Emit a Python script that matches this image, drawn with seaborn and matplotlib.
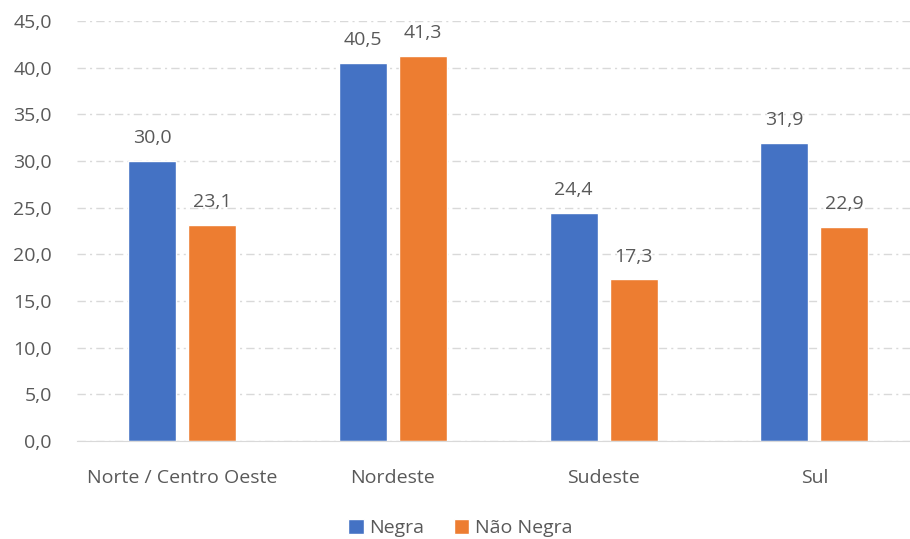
import pandas as pd
import matplotlib.pyplot as plt
import seaborn as sns

# ---------- data ----------
regioes = ["Norte / Centro Oeste", "Nordeste", "Sudeste", "Sul"]
negra = [30.0, 40.5, 24.4, 31.9]
nao_negra = [23.1, 41.3, 17.3, 22.9]
series = ["Negra", "Não Negra"]

df = pd.DataFrame({
    "Região": regioes * 2,
    "Valor": negra + nao_negra,
    "Grupo": [series[0]] * 4 + [series[1]] * 4,
})

sns.set_style("white")
plt.rcParams["font.family"] = ["Open Sans", "DejaVu Sans"]
TXT = "#595959"

fig = plt.figure(figsize=(9.1, 5.39), dpi=100)
# axes runs a bit past the right edge, like the cropped original
ax = fig.add_axes([0.0846, 0.182, 0.926, 0.779])

sns.barplot(data=df, x="Região", y="Valor", hue="Grupo",
            palette=["#4472C4", "#ED7D31"], saturation=1, width=0.57, gap=0.2,
            ax=ax, legend=True)

ax.set_ylim(0, 45)
ax.set_yticks([i * 5 for i in range(10)])
ax.set_yticklabels([f"{i * 5:.1f}".replace(".", ",") for i in range(10)])
ax.yaxis.grid(True, color="#D9D9D9", linestyle=(0, (6, 3, 1.5, 3)), linewidth=1)
ax.set_axisbelow(True)
for s in ["top", "right", "left"]:
    ax.spines[s].set_visible(False)
ax.spines["bottom"].set_color("#D9D9D9")
ax.tick_params(axis="both", length=0, labelsize=14, colors=TXT)
ax.tick_params(axis="y", pad=18)
ax.tick_params(axis="x", pad=20)
ax.set_xlabel("")
ax.set_ylabel("")

for cont in ax.containers:
    ax.bar_label(cont, labels=[f"{v:.1f}".replace(".", ",") for v in cont.datavalues],
                 padding=10, fontsize=14, color=TXT)

ax.legend(loc="upper center", bbox_to_anchor=(0.455, -0.145), ncol=2, frameon=False,
          fontsize=14, labelcolor=TXT, handlelength=0.8, handleheight=0.8,
          handletextpad=0.3, columnspacing=1.5)

plt.savefig("out.png", dpi=100)
